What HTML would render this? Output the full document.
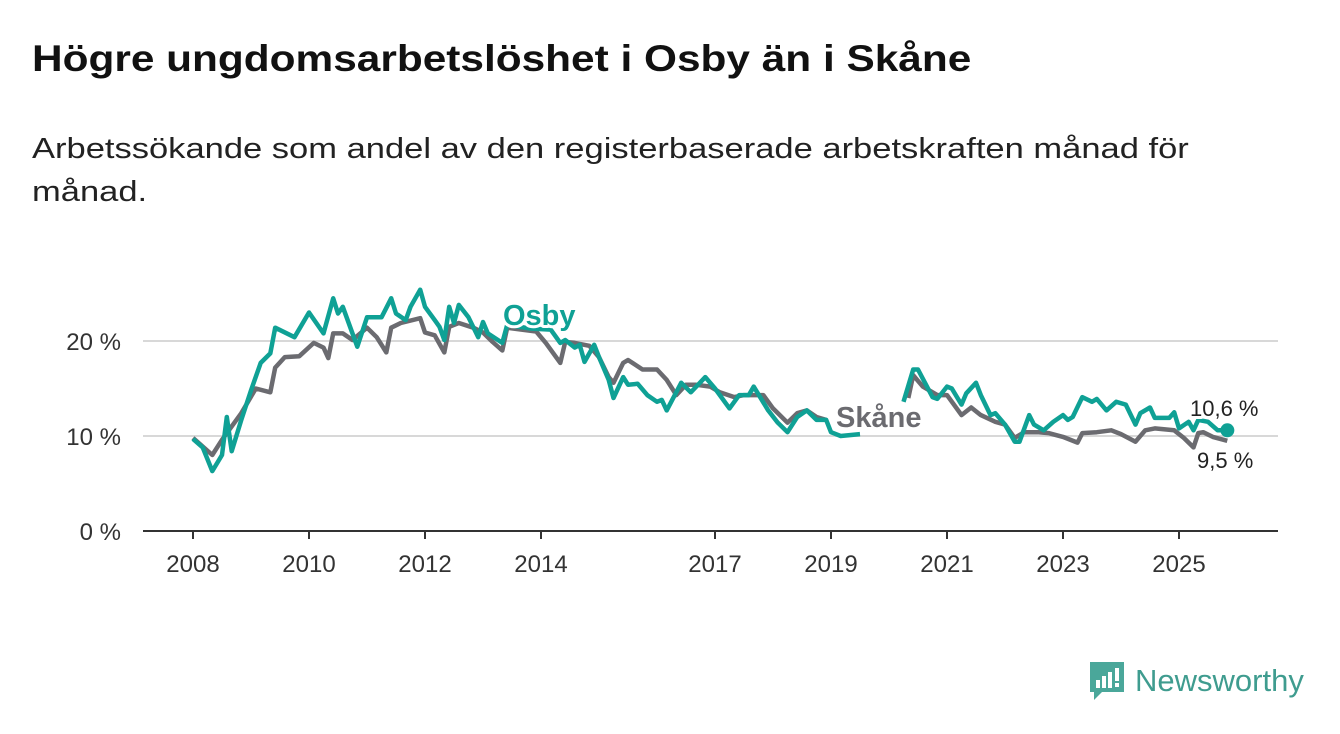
<!DOCTYPE html>
<html><head><meta charset="utf-8"><style>
body{margin:0;width:1340px;height:734px;background:#fff;font-family:"Liberation Sans",sans-serif;overflow:hidden;position:relative}
h1{position:absolute;left:32px;top:38px;margin:0;font-size:37px;font-weight:bold;color:#111;transform:scaleX(1.145);transform-origin:0 0;white-space:nowrap}
p{position:absolute;left:32px;top:128px;margin:0;font-size:29px;color:#222;line-height:43px;transform:scaleX(1.19);transform-origin:0 0;white-space:nowrap}
</style></head><body>
<h1>Högre ungdomsarbetslöshet i Osby än i Skåne</h1>
<p>Arbetssökande som andel av den registerbaserade arbetskraften månad för<br>månad.</p>
<svg id="chart" width="1340" height="734" style="position:absolute;left:0;top:0" font-family="Liberation Sans, sans-serif"></svg>
<div style="position:absolute;left:1088px;top:660px;display:flex;align-items:center">
<svg width="38" height="42" viewBox="0 0 38 42"><path d="M2 2h34v30H14l-8 8v-8H2z" fill="#4aa79a"/><rect x="8" y="20" width="4" height="8" fill="#fff"/><rect x="14" y="16" width="4" height="12" fill="#fff"/><rect x="20" y="12" width="4" height="16" fill="#fff"/><rect x="27" y="8" width="4" height="13" fill="#fff"/><rect x="27" y="23" width="4" height="4" fill="#fff"/></svg>
<span style="font-size:31px;color:#3f9c8f;margin-left:9px">Newsworthy</span></div>
<script>
const osbyMonths=[0,2,4,6,7,8,10,12,14,16,17,21,24,27,29,30,31,34,36,39,41,42,44,45,47,48,50,51,52,53,54,55,57,59,60,61,64,65,70,74,76,77,79,80,81,83,84,86,87,89,90,92,94,96,97,98,101,103,106,108,111,113,115,116,119,121,123,125,127,129,131,132,134,138,null,147,149,150,153,154,156,157,159,160,162,163,165,166,168,170,171,173,174,176,178,180,181,182,184,186,187,189,191,193,195,196,198,199,202,203,204,206,207,208,210,212,214];
const osbyVals=[9.7,8.8,6.3,8,12,8.4,11.7,14.8,17.7,18.7,21.4,20.4,23,20.8,24.5,22.9,23.6,19.4,22.5,22.5,24.5,22.9,22.2,23.6,25.4,23.6,22.2,21.5,20.1,23.6,21.9,23.8,22.5,20.4,22,20.8,19.8,21.7,21.3,21.2,19.8,20.1,19.3,19.6,17.8,19.6,18.3,15.9,14,16.2,15.4,15.5,14.3,13.6,13.8,12.7,15.6,14.6,16.2,15,12.9,14.3,14.3,15.2,12.7,11.4,10.4,12,12.7,11.7,11.7,10.4,10,10.2,null,13.6,17,17,14.1,13.9,15.2,15,13.3,14.5,15.6,14.3,12.2,12.4,11.2,9.4,9.4,12.2,11.2,10.6,11.5,12.2,11.7,12,14.1,13.6,13.9,12.7,13.6,13.3,11.2,12.4,13,11.9,11.9,12.5,10.8,11.5,10.6,11.7,11.5,10.6,10.6];
const skaneMonths=[0,4,6,10,13,16,17,19,22,25,27,28,29,31,33,36,38,40,41,43,47,48,50,52,53,55,58,60,62,64,65,68,71,73,76,77,79,82,84,86,87,89,90,93,96,98,100,102,104,107,109,112,114,118,120,123,125,127,129,131,null,148,149,151,154,156,159,161,163,166,168,170,172,175,177,180,183,184,187,190,192,195,197,199,203,205,207,208,209,211,214];
const skaneVals=[9.8,8,9.6,12.4,15,14.6,17.2,18.3,18.4,19.8,19.3,18.2,20.8,20.8,20.1,21.4,20.4,18.8,21.4,21.9,22.4,20.9,20.6,18.8,21.5,21.9,21.4,20.9,19.9,19,21.4,21.2,21,19.8,17.7,19.9,19.8,19.5,18.3,16.2,15.6,17.7,18,17,17,15.9,14.3,15.4,15.4,15.2,14.6,14.1,14.3,14.3,12.9,11.4,12.4,12.7,12,11.7,null,14,16.4,15.2,14.3,14.3,12.2,13,12.2,11.5,11.2,9.8,10.4,10.4,10.3,9.9,9.3,10.3,10.4,10.6,10.2,9.4,10.6,10.8,10.6,9.8,8.8,10.3,10.4,9.9,9.5];
const yTicks=[0,10,20];
const xTickYears=[2008,2010,2012,2014,2017,2019,2021,2023,2025];
const NS='http://www.w3.org/2000/svg';
const svg=document.getElementById('chart');
const x=m=>193+m*58/12;
const xYear=yr=>193+(yr-2008)*58;
const y=v=>531-v*9.5;
function el(t,a){const e=document.createElementNS(NS,t);for(const k in a)e.setAttribute(k,a[k]);svg.appendChild(e);return e;}
yTicks.forEach(v=>{
  const g=el('line',{x1:143,x2:1278,y1:y(v),y2:y(v),stroke:v===0?'#333':'#d8d8d8','stroke-width':2});
  
  
  const t=el('text',{x:121,y:y(v)+9,'text-anchor':'end','font-size':24,fill:'#333'});
  t.textContent=v+' %';
  
  
});
xTickYears.forEach(yr=>{
  const px=xYear(yr);
  const tk=el('line',{x1:px,x2:px,y1:531,y2:539,stroke:'#333','stroke-width':2});
  
  
  const t=el('text',{x:px,y:572,'text-anchor':'middle','font-size':24,fill:'#333'});
  t.textContent=yr;
  
  
});
function line(ms,vs,c,name){
  let d='',pen=false;
  ms.forEach((m,i)=>{
    if(m===null||vs[i]===null){pen=false;return;}
    d+=(pen?'L':'M')+x(m).toFixed(1)+','+y(vs[i]).toFixed(1);pen=true;
  });
  const p=el('path',{d:d,fill:'none',stroke:c,'stroke-width':4.5,'stroke-linejoin':'round'});
  
  
}
line(skaneMonths,skaneVals,'#6b6b70','skane-line');
line(osbyMonths,osbyVals,'#0fa195','osby-line');
const lm=osbyMonths[osbyMonths.length-1];
const dot=el('circle',{cx:x(lm),cy:y(osbyVals[osbyVals.length-1]),r:7,fill:'#0fa195'});


function label(txt,px,py,size,c,bold,name){
  const t=el('text',{x:px,y:py,'font-size':size,fill:c,'font-weight':bold?'bold':'normal',stroke:'#fff','stroke-width':6,'paint-order':'stroke','stroke-linejoin':'round'});
  t.textContent=txt;
  
  
}
label('Osby',503,325,29,'#0fa195',true,'osby-series-label');
label('Skåne',836,427,29,'#6b6b70',true,'skane-series-label');
label('10,6 %',1190,416,22,'#222',false,'osby-last-value');
label('9,5 %',1197,468,22,'#222',false,'skane-last-value');
</script>
</body></html>
